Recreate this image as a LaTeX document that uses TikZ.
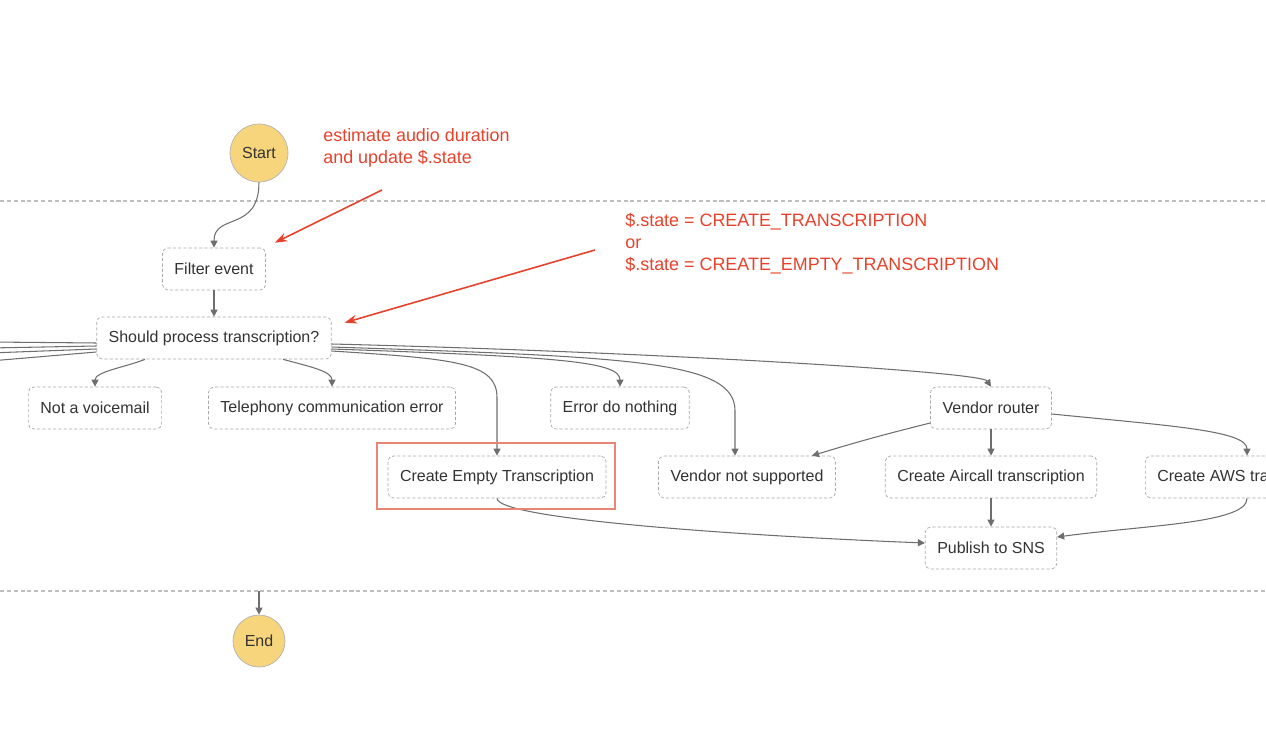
\documentclass[tikz,border=0pt]{standalone}
\usepackage{fontspec}
\setmainfont{Liberation Sans}
\usetikzlibrary{arrows.meta, calc}

\definecolor{stepgray}{HTML}{A9A9A9}
\definecolor{flowgray}{HTML}{6E6E6E}
\definecolor{noteRed}{HTML}{E8412B}
\definecolor{hlRed}{HTML}{EA8575}
\definecolor{termYellow}{HTML}{F7D57C}

\begin{document}
\begin{tikzpicture}[x=0.02cm, y=-0.02cm,
    taskbox/.style={draw=stepgray, dash pattern=on 1.8pt off 1.2pt, rounded corners=3pt,
      fill=white, text=black!80, font=\fontsize{9.1}{11}\selectfont,
      minimum height=0.84cm, inner xsep=0.24cm},
    terminal/.style={circle, draw=black!30, fill=termYellow, text=black!80,
      font=\fontsize{9.1}{11}\selectfont, inner sep=0pt},
    flow/.style={draw=flowgray, line width=0.6pt, -{Triangle[length=4pt,width=4pt]}},
    note/.style={text=noteRed, font=\fontsize{10.2}{12.5}\selectfont, align=left,
      anchor=west, inner sep=0pt},
    notearrow/.style={draw=noteRed, line width=0.9pt, -{Stealth[length=7pt,width=5pt]}},
    lane/.style={draw=black!25, dash pattern=on 2.3pt off 1.6pt, line width=0.6pt},
    hlbox/.style={draw=hlRed, line width=1.1pt}]
  \useasboundingbox (0,0) rectangle (1266,756);
  \clip (0,0) rectangle (1266,756);

  % lanes of the parallel block
  \draw[lane] (0,201) -- (1266,201);
  \draw[lane] (0,591) -- (1266,591);

  % states
  \node[terminal, minimum size=1.16cm] (start) at (259,153) {Start};
  \node[taskbox] (filter) at (214,269) {Filter event};
  \node[taskbox] (should) at (214,338) {Should process transcription?};
  \node[taskbox] (notvm) at (95,408) {Not a voicemail};
  \node[taskbox] (tel) at (332,408) {Telephony communication error};
  \node[taskbox] (error) at (620,408) {Error do nothing};
  \node[taskbox] (vendor) at (991,408) {Vendor router};
  \node[taskbox] (empty) at (497,477) {Create Empty Transcription};
  \node[taskbox] (vns) at (747,477) {Vendor not supported};
  \node[taskbox] (aircall) at (991,477) {Create Aircall transcription};
  \node[taskbox, anchor=west] (aws) at (1145,477) {Create AWS transcription};
  \node[taskbox] (publish) at (991,548) {Publish to SNS};
  \node[terminal, minimum size=1.04cm] (stop) at (259,641) {End};

  % transitions
  \draw[flow] (start.south) .. controls +(0,50) and +(0,-35) .. (filter.north);
  \draw[flow] (filter) -- (should);
  \draw[flow] ($(should.south)+(-69,0)$) .. controls +(-20,8) and +(0,-15) .. (notvm.north);
  \draw[flow] ($(should.south)+(69,0)$) .. controls +(30,8) and +(0,-15) .. (tel.north);
  \draw[flow] ($(should.east)+(0,13)$) .. controls +(125,8) and +(0,-35) .. ($(empty.north)+(0,-58)$) -- (empty.north);
  \draw[flow] ($(should.east)+(0,11)$) .. controls +(230,8) and +(0,-25) .. (error.north);
  \draw[flow] ($(should.east)+(0,9)$) .. controls +(300,10) and +(0,-50) .. ($(vns.north)+(-12,-45)$) -- ($(vns.north)+(-12,0)$);
  \draw[flow] ($(should.east)+(0,6)$) .. controls +(320,8) and +(-10,-15) .. (vendor.north);
  \foreach \ya/\yb [count=\i] in {343/342, 346/348, 349/353, 352/361} {
    \coordinate (away\i) at (-10,\yb);
    \draw[draw=flowgray, line width=0.6pt] ($(should.west)+(0,\ya-338)$) -- (away\i);
  }
  \draw[flow] ($(vendor.west)+(0,15)$) .. controls +(-60,15) and +(40,-12) .. ($(vns.north)+(65,0)$);
  \draw[flow] (vendor) -- (aircall);
  \draw[flow] ($(vendor.east)+(0,6)$) .. controls +(120,12) and +(0,-25) .. ($(aws.north west)+(102,0)$);
  \draw[flow] (empty.south) .. controls +(0,20) and +(-200,-8) .. ($(publish.west)+(0,-5)$);
  \draw[flow] (aircall) -- (publish);
  \draw[flow] ($(aws.south west)+(102,0)$) .. controls +(0,25) and +(90,-12) .. ($(publish.east)+(0,-11)$);
  \coordinate (join) at (259,591);
  \draw[flow] (join) -- (stop.north);

  % highlight and notes
  \draw[hlbox] ($(empty.north west)+(-11,-13)$) rectangle ($(empty.south east)+(9,11)$);
  \node[note] (noteOne) at (323,148) {estimate audio duration\\and update \$.state};
  \node[note] (noteTwo) at (625,244) {\$.state = CREATE\_TRANSCRIPTION\\or\\\$.state = CREATE\_EMPTY\_TRANSCRIPTION};
  \coordinate (noteOneTail) at (382,190);
  \coordinate (noteTwoTail) at (595,250);
  \draw[notearrow] (noteOneTail) -- ($(filter.north east)+(9,-5)$);
  \draw[notearrow] (noteTwoTail) -- ($(should.north east)+(13,6)$);
\end{tikzpicture}
\end{document}
